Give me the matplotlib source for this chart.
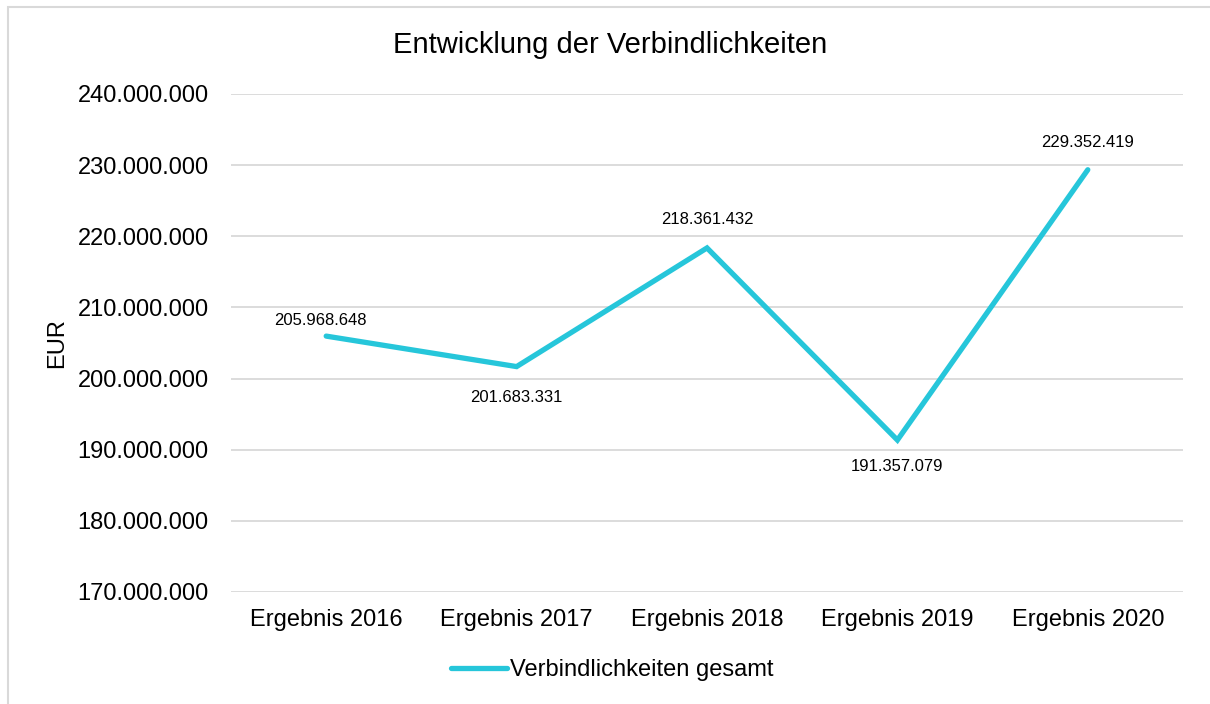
import matplotlib.pyplot as plt
from matplotlib.patches import Rectangle
from matplotlib.ticker import FuncFormatter

plt.rcParams['font.family'] = ['Liberation Sans', 'DejaVu Sans']

kategorien = ['Ergebnis 2016', 'Ergebnis 2017', 'Ergebnis 2018', 'Ergebnis 2019', 'Ergebnis 2020']
werte = [205968648, 201683331, 218361432, 191357079, 229352419]
# Lage der Beschriftung: oben (+) oder unten (-)
label_pos = [1, -1, 1, -1, 1]
label_offset = [16, 31, 28, 26, 27]

def fmt_de(v, pos=None):
    return f"{int(round(v)):,}".replace(",", ".")

fig = plt.figure(figsize=(12.1, 7.04), dpi=100)
ax = fig.add_axes([231 / 1210, 1 - 592 / 704, (1183 - 231) / 1210, (592 - 94) / 704])

# Rahmen des Diagrammbereichs
fig.patches.append(Rectangle((8 / 1210, -0.1), 1.2, 1 - 7 / 704 + 0.1, transform=fig.transFigure,
                             fill=False, edgecolor='#D9D9D9', linewidth=1.5))

x = list(range(len(kategorien)))
ax.plot(x, werte, color='#26C6DA', linewidth=3.8, solid_capstyle='round',
        solid_joinstyle='miter', label='Verbindlichkeiten gesamt', zorder=3)

for i, v in enumerate(werte):
    dx = -6 if i == 0 else 0
    ax.annotate(fmt_de(v), (i, v), xytext=(dx * 0.72, label_pos[i] * label_offset[i] * 0.72),
                textcoords='offset points', ha='center', va='center', fontsize=12, color='#000000')

ax.set_xlim(-0.5, 4.5)
ax.set_ylim(170000000, 240000000)
ax.set_yticks(range(170000000, 240000001, 10000000))
ax.yaxis.set_major_formatter(FuncFormatter(fmt_de))
ax.set_xticks(x)
ax.set_xticklabels(kategorien)
ax.tick_params(axis='both', length=0, labelsize=17, colors='#000000')
ax.tick_params(axis='y', pad=16)
ax.tick_params(axis='x', pad=12)
ax.grid(axis='y', color='#D9D9D9', linewidth=1.3)
ax.set_axisbelow(True)
for s in ax.spines.values():
    s.set_visible(False)

ax.set_ylabel('EUR', fontsize=17, labelpad=10)
ax.yaxis.set_label_coords(-163 / 952, 0.5)

fig.text(610 / 1210, 1 - 45 / 704, 'Entwicklung der Verbindlichkeiten', ha='center', va='center', fontsize=21)

fig.legend(loc='center', bbox_to_anchor=(612 / 1210, 1 - 670 / 704), frameon=False, fontsize=17,
           handlelength=2.4, handletextpad=0.1)

fig.savefig('out.png', dpi=100)
